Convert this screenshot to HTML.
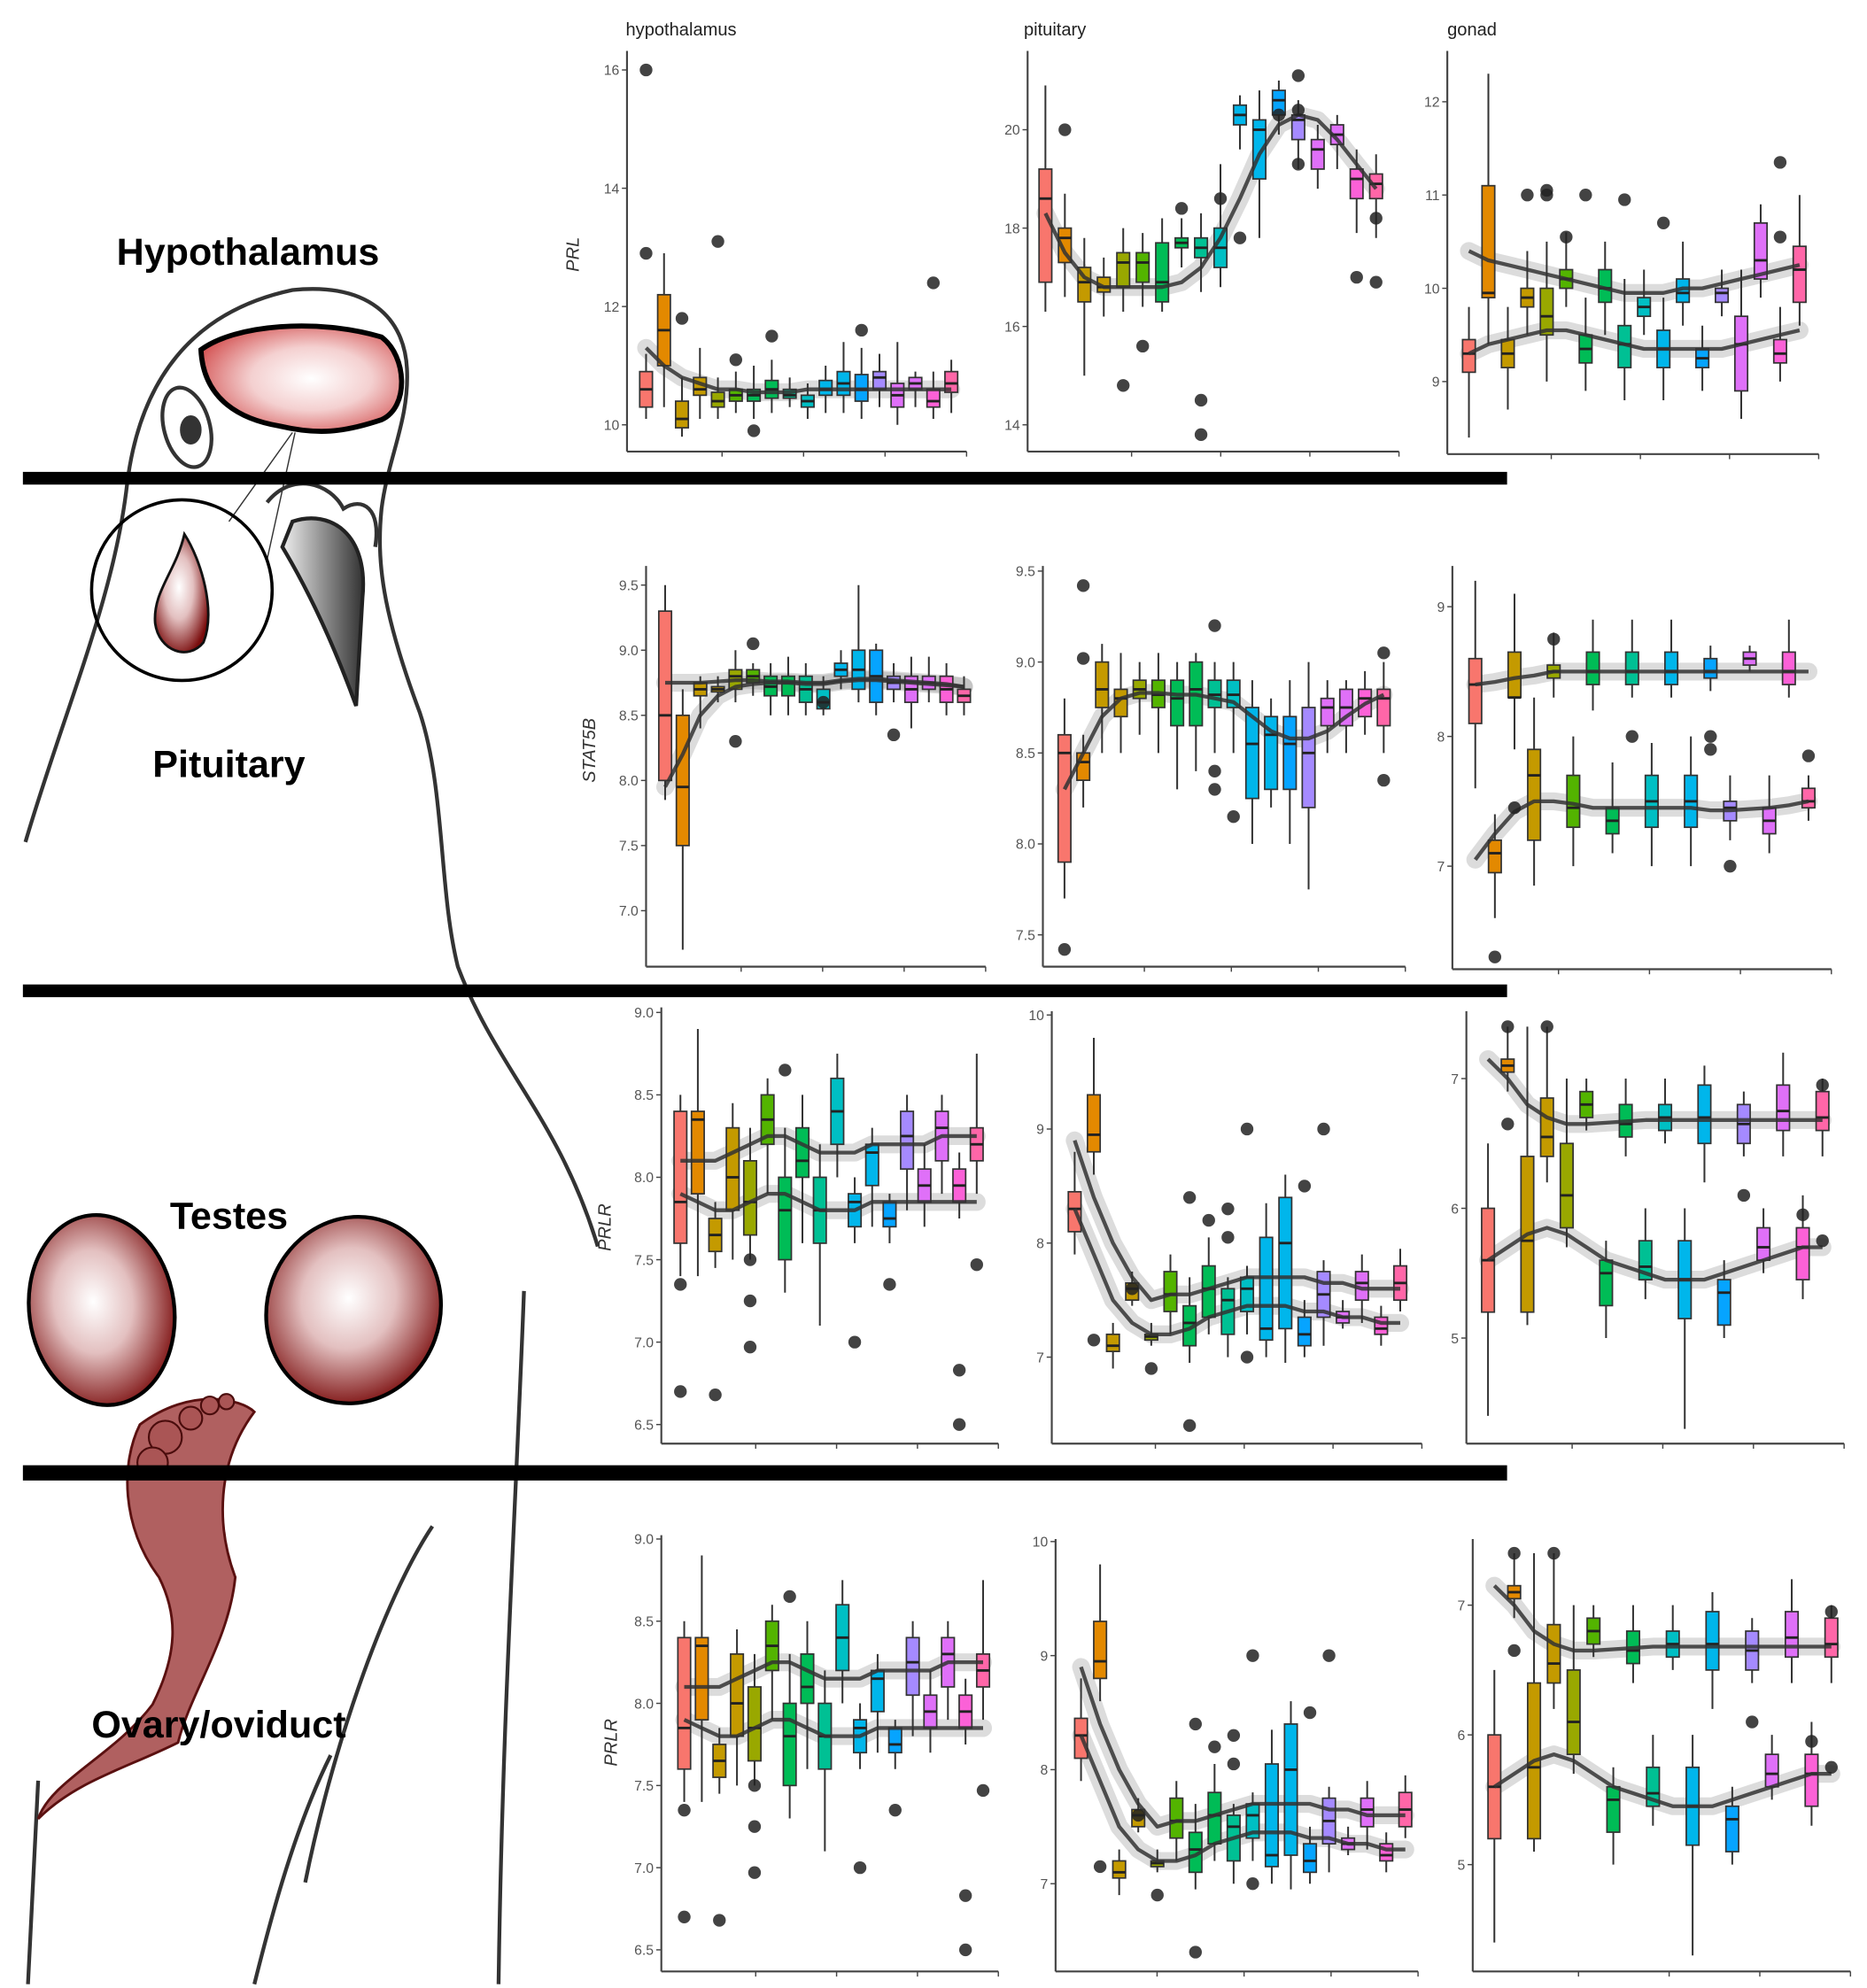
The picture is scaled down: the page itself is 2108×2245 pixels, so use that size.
<!DOCTYPE html>
<html><head><meta charset="utf-8"><style>
html,body{margin:0;padding:0;background:#fff;}
svg{display:block;}
text{font-family:"Liberation Sans",sans-serif;}
</style></head><body>
<svg id="fig" width="2108" height="2245" viewBox="0 0 1468 1563" preserveAspectRatio="none" xmlns="http://www.w3.org/2000/svg">
<defs>
<radialGradient id="brainG" cx="0.55" cy="0.5" r="0.6"><stop offset="0" stop-color="#fff"/><stop offset="0.5" stop-color="#f4d0d0"/><stop offset="1" stop-color="#d45555"/></radialGradient>
<radialGradient id="testG" cx="0.45" cy="0.45" r="0.6"><stop offset="0" stop-color="#fff"/><stop offset="0.45" stop-color="#e3c0c0"/><stop offset="1" stop-color="#7a0c0c"/></radialGradient>
<linearGradient id="beakG" x1="0" x2="1"><stop offset="0" stop-color="#eee"/><stop offset="1" stop-color="#333"/></linearGradient>
</defs>
<g id="bird" fill="none" stroke="#333" stroke-width="3">
<path d="M20,662 C50,560 90,470 100,380 C110,300 150,245 230,228 C290,222 318,250 320,290 C322,330 305,360 300,400 C296,440 300,480 330,560 C350,620 345,700 360,760 C390,840 440,880 470,980"/>
<path d="M412,1015 C405,1200 395,1350 392,1560 M240,1480 C260,1380 300,1260 340,1200 M200,1560 C210,1520 230,1440 260,1380 M30,1400 L22,1560"/>
<ellipse cx="147" cy="336" rx="18" ry="32" transform="rotate(-15 147 336)"/>
<ellipse cx="150" cy="338" rx="7" ry="10" fill="#333"/>
<path d="M230,410 C260,400 290,420 285,470 L280,555 C260,500 240,460 222,430 Z" fill="url(#beakG)" stroke="#222"/>
<path d="M210,395 C230,370 260,380 270,400 C285,390 300,400 295,430"/>
<line x1="230" y1="340" x2="180" y2="410" stroke-width="1"/>
<line x1="232" y1="340" x2="210" y2="440" stroke-width="1"/>
<circle cx="143" cy="464" r="71" stroke="#000" stroke-width="2.5"/>
<path d="M145,420 C158,440 170,480 160,505 C148,520 125,512 122,490 C120,465 138,450 145,420 Z" fill="url(#testG)" stroke="#111" stroke-width="2"/>
<path d="M158,275 C185,255 250,250 300,265 C320,280 322,320 300,330 C270,340 250,342 220,335 C190,330 160,315 158,275 Z" fill="url(#brainG)" stroke="#000" stroke-width="4"/>
<ellipse cx="80" cy="1030" rx="57" ry="75" transform="rotate(-8 80 1030)" fill="url(#testG)" stroke="#000" stroke-width="3"/>
<ellipse cx="278" cy="1030" rx="68" ry="74" transform="rotate(20 278 1030)" fill="url(#testG)" stroke="#000" stroke-width="3"/>
<path d="M110,1120 C150,1090 190,1100 200,1110 C170,1150 170,1200 185,1240 C180,1290 150,1330 140,1370 C100,1390 60,1400 30,1430 C40,1400 90,1380 120,1340 C140,1300 140,1270 125,1240 C95,1200 95,1150 110,1120 Z" fill="#b06060" stroke="#5a1010" stroke-width="2"/>
<g fill="#a55" stroke="#4a0c0c" stroke-width="1.5">
<circle cx="130" cy="1130" r="13"/><circle cx="150" cy="1115" r="9"/><circle cx="165" cy="1105" r="7"/><circle cx="178" cy="1102" r="6"/><circle cx="120" cy="1150" r="12"/>
</g>
</g>
<rect x="18" y="371" width="1167" height="10" fill="#000"/>
<rect x="18" y="774" width="1167" height="10" fill="#000"/>
<rect x="18" y="1152" width="1167" height="12" fill="#000"/>
<g font-size="30" fill="#000" font-weight="bold" text-anchor="middle">
<text x="195" y="208">Hypothalamus</text>
<text x="180" y="611">Pituitary</text>
<text x="180" y="966">Testes</text>
<text x="172" y="1366">Ovary/oviduct</text>
</g>
<g font-size="14" fill="#222">
<text x="492" y="28">hypothalamus</text>
<text x="805" y="28">pituitary</text>
<text x="1138" y="28">gonad</text>
</g>
<g id="charts"></g>
</svg>
<script>
const hypPRL_med=[10.6,11.6,10.1,10.6,10.4,10.5,10.5,10.6,10.5,10.4,10.6,10.7,10.6,10.8,10.5,10.7,10.4,10.7];
const hypPRL_q1=[10.3,11.0,9.95,10.5,10.3,10.4,10.4,10.45,10.45,10.3,10.5,10.5,10.4,10.6,10.3,10.6,10.3,10.55];
const hypPRL_q3=[10.9,12.2,10.4,10.8,10.55,10.6,10.6,10.75,10.6,10.5,10.75,10.9,10.85,10.9,10.7,10.8,10.6,10.9];
const hypPRL_lo=[10.1,10.3,9.8,10.1,10.1,10.2,10.1,10.2,10.3,10.1,10.2,10.2,10.1,10.3,10.0,10.3,10.1,10.2];
const hypPRL_hi=[11.2,12.9,10.8,11.3,10.8,10.9,11.0,11.1,10.8,10.7,11.0,11.4,11.3,11.2,11.4,10.9,10.9,11.1];
const hypPRL_out=[[0,16],[0,12.9],[2,11.8],[4,13.1],[5,11.1],[6,9.9],[7,11.5],[12,11.6],[16,12.4]];
const hypPRL_trA=[11.3,11.0,10.8,10.7,10.6,10.6,10.55,10.55,10.55,10.6,10.6,10.6,10.6,10.6,10.6,10.6,10.6,10.6];

const pitPRL_med=[18.6,17.8,16.9,16.8,17.3,17.3,16.9,17.7,17.6,17.6,20.3,20.0,20.6,20.2,19.6,19.9,19.0,18.9];
const pitPRL_q1=[16.9,17.3,16.5,16.7,16.8,16.9,16.5,17.6,17.4,17.2,20.1,19.0,20.3,19.8,19.2,19.7,18.6,18.6];
const pitPRL_q3=[19.2,18.0,17.2,17.0,17.5,17.5,17.7,17.8,17.8,18.0,20.5,20.2,20.8,20.3,19.8,20.1,19.2,19.1];
const pitPRL_lo=[16.3,16.6,15.0,16.2,16.3,16.4,16.3,17.2,16.7,16.8,19.6,17.8,19.9,19.2,18.8,19.2,17.9,17.8];
const pitPRL_hi=[20.9,18.7,17.8,17.4,18.0,17.9,18.2,18.2,18.3,19.3,20.7,20.8,21.0,20.6,20.1,20.3,19.6,19.5];
const pitPRL_out=[[1,20.0],[4,14.8],[5,15.6],[7,18.4],[8,14.5],[8,13.8],[9,18.6],[10,17.8],[12,20.3],[13,20.4],[13,21.1],[13,19.3],[17,18.2],[16,17.0],[17,16.9]];
const pitPRL_trA=[18.3,17.5,17.0,16.8,16.8,16.8,16.8,16.9,17.2,17.8,18.6,19.5,20.1,20.3,20.2,19.8,19.3,18.8];

const gonPRL_med=[9.3,9.95,9.3,9.9,9.7,10.1,9.35,10.0,9.4,9.8,9.35,9.95,9.25,9.95,9.4,10.3,9.3,10.2];
const gonPRL_q1=[9.1,9.9,9.15,9.8,9.5,10.0,9.2,9.85,9.15,9.7,9.15,9.85,9.15,9.85,8.9,10.1,9.2,9.85];
const gonPRL_q3=[9.45,11.1,9.45,10.0,10.0,10.2,9.5,10.2,9.6,9.9,9.55,10.1,9.35,10.0,9.7,10.7,9.45,10.45];
const gonPRL_lo=[8.4,9.4,8.7,9.5,9.0,9.8,8.9,9.5,8.8,9.5,8.8,9.6,8.9,9.7,8.6,9.9,9.0,9.6];
const gonPRL_hi=[9.8,12.3,9.8,10.4,10.5,10.6,9.9,10.5,10.1,10.2,9.9,10.5,9.6,10.2,10.2,10.9,9.8,11.0];
const gonPRL_out=[[3,11.0],[4,11.0],[4,11.05],[5,10.55],[6,11.0],[8,10.95],[10,10.7],[16,11.35],[16,10.55]];
const gonPRL_trA=[10.4,10.3,10.25,10.2,10.15,10.1,10.05,10.0,9.95,9.95,9.95,10.0,10.0,10.05,10.1,10.15,10.2,10.25];
const gonPRL_trB=[9.3,9.4,9.45,9.5,9.55,9.55,9.5,9.45,9.4,9.35,9.35,9.35,9.35,9.35,9.4,9.45,9.5,9.55];

const hypSTAT_med=[8.5,7.95,8.7,8.7,8.8,8.8,8.72,8.75,8.7,8.6,8.85,8.85,8.8,8.75,8.7,8.75,8.7,8.65];
const hypSTAT_q1=[8.0,7.5,8.65,8.68,8.7,8.75,8.65,8.65,8.6,8.55,8.8,8.7,8.6,8.7,8.6,8.7,8.6,8.6];
const hypSTAT_q3=[9.3,8.5,8.75,8.72,8.85,8.85,8.8,8.8,8.8,8.7,8.9,9.0,9.0,8.8,8.8,8.8,8.8,8.7];
const hypSTAT_lo=[7.85,6.7,8.4,8.6,8.6,8.65,8.5,8.5,8.5,8.5,8.7,8.6,8.5,8.6,8.4,8.6,8.5,8.5];
const hypSTAT_hi=[9.5,8.7,8.8,8.8,9.0,8.9,8.9,8.95,8.9,8.8,9.0,9.5,9.05,8.9,8.95,8.95,8.9,8.8];
const hypSTAT_out=[[4,8.3],[5,9.05],[9,8.6],[13,8.35]];
const hypSTAT_trA=[8.75,8.75,8.75,8.76,8.77,8.77,8.76,8.76,8.75,8.75,8.77,8.78,8.78,8.77,8.76,8.75,8.74,8.72];
const hypSTAT_trB=[7.95,8.2,8.5,8.65,8.72,8.74,8.75,8.75,8.74,8.74,8.76,8.77,8.77,8.76,8.75,8.74,8.73,8.72];

const pitSTAT_med=[8.5,8.45,8.85,8.8,8.85,8.82,8.8,8.85,8.82,8.82,8.55,8.6,8.55,8.5,8.75,8.75,8.8,8.8];
const pitSTAT_q1=[7.9,8.35,8.75,8.7,8.8,8.75,8.65,8.65,8.75,8.75,8.25,8.3,8.3,8.2,8.65,8.65,8.7,8.65];
const pitSTAT_q3=[8.6,8.5,9.0,8.85,8.9,8.9,8.9,9.0,8.9,8.9,8.75,8.7,8.7,8.75,8.8,8.85,8.85,8.85];
const pitSTAT_lo=[7.7,8.2,8.5,8.5,8.6,8.5,8.3,8.4,8.5,8.5,8.0,8.2,8.0,7.75,8.5,8.5,8.6,8.5];
const pitSTAT_hi=[8.8,8.6,9.1,9.05,9.0,9.05,9.0,9.05,9.0,9.0,8.9,8.8,8.9,9.0,8.9,8.9,8.95,9.0];
const pitSTAT_out=[[0,7.42],[1,9.02],[1,9.42],[8,9.2],[8,8.4],[8,8.3],[9,8.15],[17,8.35],[17,9.05]];
const pitSTAT_trA=[8.3,8.5,8.7,8.8,8.83,8.83,8.82,8.82,8.8,8.78,8.7,8.62,8.58,8.58,8.62,8.7,8.77,8.82];

const gonSTAT_med=[8.4,7.1,8.3,7.7,8.5,7.45,8.5,7.35,8.5,7.5,8.5,7.5,8.5,7.45,8.6,7.35,8.5,7.5];
const gonSTAT_q1=[8.1,6.95,8.3,7.2,8.45,7.3,8.4,7.25,8.4,7.3,8.4,7.3,8.45,7.35,8.55,7.25,8.4,7.45];
const gonSTAT_q3=[8.6,7.2,8.65,7.9,8.55,7.7,8.65,7.45,8.65,7.7,8.65,7.7,8.6,7.5,8.65,7.45,8.65,7.6];
const gonSTAT_lo=[7.6,6.6,7.9,6.85,8.3,7.0,8.2,7.1,8.3,7.0,8.3,7.0,8.35,7.2,8.5,7.1,8.3,7.35];
const gonSTAT_hi=[9.2,7.4,9.1,8.3,8.8,8.0,8.9,7.8,8.9,7.95,8.9,8.0,8.7,7.7,8.7,7.7,8.9,7.7];
const gonSTAT_out=[[1,6.3],[2,7.45],[4,8.75],[8,8.0],[12,8.0],[12,7.9],[13,7.0],[17,7.85]];
const gonSTAT_trA=[8.4,8.42,8.45,8.47,8.5,8.5,8.5,8.5,8.5,8.5,8.5,8.5,8.5,8.5,8.5,8.5,8.5,8.5];
const gonSTAT_trB=[7.05,7.25,7.42,7.5,7.5,7.48,7.45,7.45,7.45,7.45,7.45,7.45,7.43,7.43,7.44,7.45,7.47,7.5];

const hypPRLR_med=[7.85,8.35,7.65,8.0,7.85,8.35,7.8,8.1,7.8,8.4,7.85,8.15,7.75,8.25,7.95,8.3,7.95,8.2];
const hypPRLR_q1=[7.6,7.9,7.55,7.8,7.65,8.2,7.5,8.0,7.6,8.2,7.7,7.95,7.7,8.05,7.85,8.1,7.85,8.1];
const hypPRLR_q3=[8.4,8.4,7.75,8.3,8.1,8.5,8.0,8.3,8.0,8.6,7.9,8.2,7.85,8.4,8.05,8.4,8.05,8.3];
const hypPRLR_lo=[7.4,7.4,7.45,7.5,7.5,7.9,7.3,7.6,7.1,8.0,7.6,7.7,7.6,7.8,7.7,7.9,7.75,7.9];
const hypPRLR_hi=[8.5,8.9,7.85,8.45,8.3,8.6,8.3,8.5,8.2,8.75,8.0,8.3,7.9,8.5,8.2,8.5,8.15,8.75];
const hypPRLR_out=[[0,7.35],[0,6.7],[2,6.68],[4,7.25],[4,7.5],[4,6.97],[6,8.65],[10,7.0],[12,7.35],[16,6.83],[16,6.5],[17,7.47]];
const hypPRLR_trA=[8.1,8.1,8.1,8.15,8.2,8.25,8.25,8.2,8.15,8.15,8.15,8.2,8.2,8.2,8.2,8.25,8.25,8.25];
const hypPRLR_trB=[7.9,7.85,7.8,7.8,7.85,7.9,7.9,7.85,7.8,7.8,7.8,7.85,7.85,7.85,7.85,7.85,7.85,7.85];

const pitPRLR_med=[8.3,8.95,7.1,7.6,7.18,7.55,7.3,7.6,7.5,7.6,7.25,8.0,7.2,7.55,7.35,7.65,7.25,7.65];
const pitPRLR_q1=[8.1,8.8,7.05,7.5,7.15,7.4,7.1,7.35,7.2,7.4,7.15,7.25,7.1,7.35,7.3,7.5,7.2,7.5];
const pitPRLR_q3=[8.45,9.3,7.2,7.65,7.2,7.75,7.45,7.8,7.6,7.7,8.05,8.4,7.35,7.75,7.4,7.75,7.35,7.8];
const pitPRLR_lo=[7.9,8.6,6.9,7.45,7.1,7.2,6.95,7.2,7.0,7.2,7.0,6.95,7.0,7.1,7.25,7.3,7.1,7.4];
const pitPRLR_hi=[8.8,9.8,7.3,7.75,7.3,7.9,7.7,8.05,7.7,7.8,8.35,8.6,7.5,7.85,7.5,7.9,7.45,7.95];
const pitPRLR_out=[[1,7.15],[3,7.6],[4,6.9],[6,6.4],[6,8.4],[7,8.2],[8,8.3],[8,8.05],[9,9.0],[9,7.0],[12,8.5],[13,9.0]];
const pitPRLR_trA=[8.9,8.4,8.0,7.7,7.5,7.55,7.55,7.6,7.65,7.7,7.7,7.7,7.7,7.65,7.65,7.6,7.6,7.6];
const pitPRLR_trB=[8.3,7.9,7.5,7.3,7.2,7.2,7.25,7.35,7.4,7.45,7.45,7.45,7.4,7.4,7.35,7.35,7.3,7.3];

const gonPRLR_med=[5.6,7.1,5.75,6.55,6.1,6.8,5.5,6.65,5.55,6.7,5.45,6.7,5.35,6.65,5.7,6.75,5.7,6.7];
const gonPRLR_q1=[5.2,7.05,5.2,6.4,5.85,6.7,5.25,6.55,5.45,6.6,5.15,6.5,5.1,6.5,5.6,6.6,5.45,6.6];
const gonPRLR_q3=[6.0,7.15,6.4,6.85,6.5,6.9,5.6,6.8,5.75,6.8,5.75,6.95,5.45,6.8,5.85,6.95,5.85,6.9];
const gonPRLR_lo=[4.4,6.9,5.1,6.2,5.7,6.6,5.0,6.4,5.3,6.5,4.3,6.2,5.0,6.4,5.5,6.4,5.3,6.4];
const gonPRLR_hi=[6.5,7.4,7.4,7.4,7.0,7.0,5.75,7.0,6.0,7.0,6.0,7.1,5.6,6.9,6.0,7.2,6.1,7.0];
const gonPRLR_out=[[1,7.4],[1,6.65],[3,7.4],[13,6.1],[16,5.95],[17,5.75],[17,6.95]];
const gonPRLR_trA=[7.15,7.0,6.8,6.7,6.65,6.65,6.66,6.67,6.68,6.68,6.68,6.68,6.68,6.68,6.68,6.68,6.68,6.68];
const gonPRLR_trB=[5.6,5.7,5.8,5.85,5.8,5.7,5.6,5.55,5.5,5.45,5.45,5.45,5.5,5.55,5.6,5.65,5.7,5.7];

const tickPRLh=[10,12,14,16], tickPRLp=[14,16,18,20], tickPRLg=[9,10,11,12];
const tickSTATh=[7.0,7.5,8.0,8.5,9.0,9.5], tickSTATp=[7.5,8.0,8.5,9.0,9.5], tickSTATg=[7,8,9];
const tickPRLRh=[6.5,7.0,7.5,8.0,8.5,9.0], tickPRLRp=[7,8,9,10], tickPRLRg=[5,6,7];

const palette=["#F8766D","#E38900","#C49A00","#99A800","#53B400","#00BC56","#00C094","#00BFC4","#00B6EB","#06A4FF","#A58AFF","#DF70F8","#FB61D7","#FF66A8"];

const panels=[
 {id:"hyp-prl",ax:493,xe:760,yt:40,yb:355,bs:508,be:748,sc:[10,334,16,55],t:tickPRLh,d:0,med:hypPRL_med,q1:hypPRL_q1,q3:hypPRL_q3,lo:hypPRL_lo,hi:hypPRL_hi,out:hypPRL_out,tr:[hypPRL_trA],yl:"PRL",ylx:455,yly:200},
 {id:"pit-prl",ax:808,xe:1100,yt:40,yb:355,bs:822,be:1082,sc:[14,334,20,102],t:tickPRLp,d:0,med:pitPRL_med,q1:pitPRL_q1,q3:pitPRL_q3,lo:pitPRL_lo,hi:pitPRL_hi,out:pitPRL_out,tr:[pitPRL_trA]},
 {id:"gon-prl",ax:1138,xe:1430,yt:40,yb:357,bs:1155,be:1415,sc:[9,300,12,80],t:tickPRLg,d:0,med:gonPRL_med,q1:gonPRL_q1,q3:gonPRL_q3,lo:gonPRL_lo,hi:gonPRL_hi,out:gonPRL_out,tr:[gonPRL_trA,gonPRL_trB]},
 {id:"hyp-stat5b",ax:508,xe:775,yt:445,yb:760,bs:523,be:758,sc:[7,716,9.5,460],t:tickSTATh,d:1,med:hypSTAT_med,q1:hypSTAT_q1,q3:hypSTAT_q3,lo:hypSTAT_lo,hi:hypSTAT_hi,out:hypSTAT_out,tr:[hypSTAT_trA,hypSTAT_trB],yl:"STAT5B",ylx:468,yly:590},
 {id:"pit-stat5b",ax:820,xe:1105,yt:445,yb:760,bs:837,be:1088,sc:[7.5,735,9.5,449],t:tickSTATp,d:1,med:pitSTAT_med,q1:pitSTAT_q1,q3:pitSTAT_q3,lo:pitSTAT_lo,hi:pitSTAT_hi,out:pitSTAT_out,tr:[pitSTAT_trA]},
 {id:"gon-stat5b",ax:1142,xe:1440,yt:445,yb:762,bs:1160,be:1422,sc:[7,681,9,477],t:tickSTATg,d:0,med:gonSTAT_med,q1:gonSTAT_q1,q3:gonSTAT_q3,lo:gonSTAT_lo,hi:gonSTAT_hi,out:gonSTAT_out,tr:[gonSTAT_trA,gonSTAT_trB]},
 {id:"hyp-prlr-testes",ax:520,xe:785,yt:792,yb:1135,bs:535,be:768,sc:[6.5,1120,9,796],t:tickPRLRh,d:1,med:hypPRLR_med,q1:hypPRLR_q1,q3:hypPRLR_q3,lo:hypPRLR_lo,hi:hypPRLR_hi,out:hypPRLR_out,tr:[hypPRLR_trA,hypPRLR_trB],yl:"PRLR",ylx:480,yly:965},
 {id:"pit-prlr-testes",ax:827,xe:1118,yt:795,yb:1135,bs:845,be:1101,sc:[7,1067,10,798],t:tickPRLRp,d:0,med:pitPRLR_med,q1:pitPRLR_q1,q3:pitPRLR_q3,lo:pitPRLR_lo,hi:pitPRLR_hi,out:pitPRLR_out,tr:[pitPRLR_trA,pitPRLR_trB]},
 {id:"gon-prlr-testes",ax:1153,xe:1450,yt:795,yb:1135,bs:1170,be:1433,sc:[5,1052,7,848],t:tickPRLRg,d:0,med:gonPRLR_med,q1:gonPRLR_q1,q3:gonPRLR_q3,lo:gonPRLR_lo,hi:gonPRLR_hi,out:gonPRLR_out,tr:[gonPRLR_trA,gonPRLR_trB]},
 {id:"hyp-prlr-ovary",ax:520,xe:785,yt:1207,yb:1550,bs:538,be:773,sc:[6.5,1533,9,1210],t:tickPRLRh,d:1,med:hypPRLR_med,q1:hypPRLR_q1,q3:hypPRLR_q3,lo:hypPRLR_lo,hi:hypPRLR_hi,out:hypPRLR_out,tr:[hypPRLR_trA,hypPRLR_trB],yl:"PRLR",ylx:485,yly:1370},
 {id:"pit-prlr-ovary",ax:830,xe:1115,yt:1210,yb:1550,bs:850,be:1105,sc:[7,1481,10,1212],t:tickPRLRp,d:0,med:pitPRLR_med,q1:pitPRLR_q1,q3:pitPRLR_q3,lo:pitPRLR_lo,hi:pitPRLR_hi,out:pitPRLR_out,tr:[pitPRLR_trA,pitPRLR_trB]},
 {id:"gon-prlr-ovary",ax:1158,xe:1455,yt:1210,yb:1550,bs:1175,be:1440,sc:[5,1466,7,1262],t:tickPRLRg,d:0,med:gonPRLR_med,q1:gonPRLR_q1,q3:gonPRLR_q3,lo:gonPRLR_lo,hi:gonPRLR_hi,out:gonPRLR_out,tr:[gonPRLR_trA,gonPRLR_trB]}
];

const NS="http://www.w3.org/2000/svg";
function mk(tag,attrs,parent){const e=document.createElementNS(NS,tag);for(const k in attrs)e.setAttribute(k,attrs[k]);parent.appendChild(e);return e;}
const root=document.getElementById('charts');
panels.forEach(p=>{
  const g=mk('g',{},root);
  
  
  const ys=v=>p.sc[1]+(v-p.sc[0])*(p.sc[3]-p.sc[1])/(p.sc[2]-p.sc[0]);
  const n=p.med.length;
  const xs=i=>p.bs+i*(p.be-p.bs)/(n-1);
  const ya=mk('line',{x1:p.ax,y1:p.yt,x2:p.ax,y2:p.yb,stroke:'#444','stroke-width':1.5},g);
  
  
  const xa=mk('line',{x1:p.ax,y1:p.yb,x2:p.xe,y2:p.yb,stroke:'#444','stroke-width':1.5},g);
  
  
  for(let k=0;k<4;k++){const tx=p.ax+(p.xe-p.ax)*(0.28+k*0.24);mk('line',{x1:tx,y1:p.yb,x2:tx,y2:p.yb+4,stroke:'#444'},g);}
  p.t.forEach(v=>{
    const y=ys(v);
    mk('line',{x1:p.ax-4,y1:y,x2:p.ax,y2:y,stroke:'#444'},g);
    const t=mk('text',{x:p.ax-6,y:y+4,'text-anchor':'end','font-size':11,fill:'#555'},g);
    t.textContent=v.toFixed(p.d);
    
    
  });
  if(p.yl){
    const t=mk('text',{x:p.ylx,y:p.yly,'text-anchor':'middle','font-size':14,'font-style':'italic',fill:'#333',transform:`rotate(-90 ${p.ylx} ${p.yly})`},g);
    t.textContent=p.yl;
    
    
  }
  p.tr.forEach(tr=>{
    let d='';tr.forEach((v,i)=>{d+=(i?'L':'M')+xs(i).toFixed(1)+','+ys(v).toFixed(1);});
    const band=mk('path',{d:d,fill:'none',stroke:'#9a9a9a','stroke-opacity':0.35,'stroke-width':14,'stroke-linejoin':'round','stroke-linecap':'round'},g);
    
    
  });
  for(let i=0;i<n;i++){
    const x=xs(i),w=10,c=palette[Math.round(i*(palette.length-1)/(n-1))];
    const wl=mk('line',{x1:x,y1:ys(p.lo[i]),x2:x,y2:ys(p.hi[i]),stroke:'#333','stroke-width':1.4},g);
    
    
    const yq3=ys(p.q3[i]),yq1=ys(p.q1[i]);
    const r=mk('rect',{x:x-w/2,y:Math.min(yq1,yq3),width:w,height:Math.max(2,Math.abs(yq1-yq3)),fill:c,stroke:'#333','stroke-width':1.2},g);
    
    
    mk('line',{x1:x-w/2,y1:ys(p.med[i]),x2:x+w/2,y2:ys(p.med[i]),stroke:'#222','stroke-width':2},g);
  }
  p.tr.forEach(tr=>{
    let d='';tr.forEach((v,i)=>{d+=(i?'L':'M')+xs(i).toFixed(1)+','+ys(v).toFixed(1);});
    const ln=mk('path',{d:d,fill:'none',stroke:'#333','stroke-opacity':0.85,'stroke-width':3,'stroke-linejoin':'round'},g);
    
    
  });
  p.out.forEach(o=>{
    const c=mk('circle',{cx:xs(o[0]),cy:ys(o[1]),r:5,fill:'#222','fill-opacity':0.85},g);
    
    
  });
});
</script>
</body></html>
